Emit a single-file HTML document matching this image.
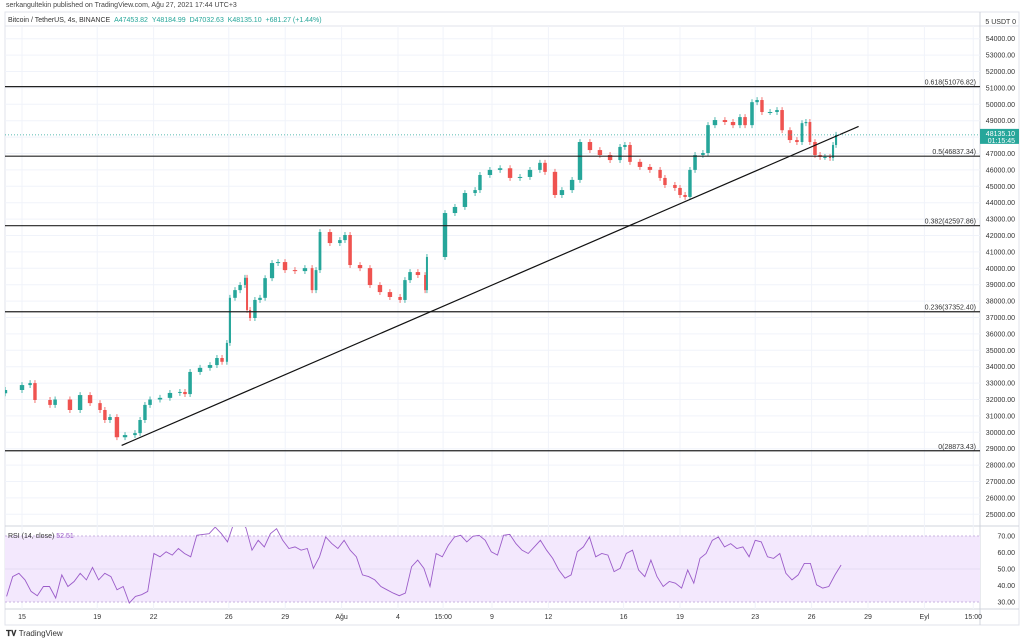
<!DOCTYPE html>
<html><head><meta charset="utf-8">
<style>
body{margin:0;background:#fff;font-family:"Liberation Sans",sans-serif;}
#wrap{position:relative;width:1024px;height:643px;overflow:hidden;background:#fff}
.t{position:absolute;font-size:7px;color:#333;white-space:nowrap}
</style></head>
<body>
<div id="wrap">
<div class="t" style="left:6px;top:2px;font-size:7px;color:#444">serkangultekin published on TradingView.com, Ağu 27, 2021 17:44 UTC+3</div>
<div class="t" style="left:8px;top:17px;font-size:7px">Bitcoin / TetherUS, 4s, BINANCE &nbsp;<span style="color:#26a69a">A47453.82 &nbsp;Y48184.99 &nbsp;D47032.63 &nbsp;K48135.10 &nbsp;+681.27 (+1.44%)</span></div>
<svg id="svg" width="1024" height="643" style="position:absolute;left:0;top:0"></svg>
<div class="t" style="left:6px;top:629px;font-size:8px;color:#333;font-weight:bold">𝐓𝐕 <span style="font-weight:normal">TradingView</span></div>
</div>
<script>
const days=[-0.9,0,0.43,0.69,1.49,1.76,2.55,3.09,3.62,4.15,4.41,4.68,5.05,5.48,6.01,6.28,6.54,6.81,7.34,7.87,8.4,8.67,8.94,9.47,10,10.37,10.64,10.9,11.06,11.33,11.6,11.86,11.97,12.13,12.39,12.66,12.93,13.3,13.62,13.99,14.52,15.05,15.43,15.64,15.85,16.38,16.91,17.18,17.45,17.98,18.51,19.04,19.57,20.11,20.37,20.64,21.06,21.44,21.54,22.5,23.03,23.56,24.1,24.36,24.89,25.43,25.96,26.49,27.02,27.55,27.82,28.35,28.72,29.26,29.68,30.21,30.74,31.28,31.81,32.07,32.34,32.87,33.4,33.94,34.2,34.73,35,35.27,35.53,35.8,36.22,36.49,36.86,37.39,37.82,38.19,38.46,38.83,39.1,39.36,39.79,40.16,40.43,40.85,41.22,41.49,41.7,41.91,42.18,42.45,42.71,42.98,43.14,43.3];
const closes=[32580,32880,33000,31970,31670,32000,31360,32270,31780,31360,30750,30930,29700,29830,29950,30750,31670,32000,32100,32400,32460,32330,33680,33930,34100,34530,34300,35450,38200,38670,38980,39420,37460,36970,38070,38200,39400,40320,40380,39890,39830,40010,38670,39890,42210,41540,41720,42030,40200,40010,38980,38550,38250,38070,39280,39770,39590,38670,40690,43370,43740,44590,44770,45690,46000,46100,45510,45570,46000,46430,45880,44470,44770,45390,47700,47210,46910,46600,47400,47520,46490,46180,46000,45510,45080,44900,44470,44350,46000,46910,47030,48730,49040,48920,48730,49220,48730,50130,50260,49530,49530,49650,48420,47820,47700,48850,48920,47700,46910,46790,46790,46730,47520,48135];
const rsiVals=[33.4,45.4,47.4,43.4,36.4,33.8,39.4,39.4,32.4,46.4,39.4,42.4,47.4,43.4,51,43.4,47.4,45.4,37.4,39.4,29.4,33.4,34.4,36.4,59.4,57.4,60.4,58.4,62.4,59.4,57.4,70.4,71,71.4,75.4,71.4,66.4,77.4,80,75,61.4,67.4,63.4,71.4,74.4,67.4,62.4,63.4,61.4,62.4,50.4,57.4,69.4,65.4,62.4,67.4,61.4,57.4,46.4,45.4,43.4,39.4,37.4,35.4,33.8,35.4,51.4,55.4,50.4,39.4,59.4,57.4,64.4,69.4,70.4,66.4,69.8,70.4,67.4,60.4,58.4,70.4,71,65.4,61.4,59.4,63.4,67.4,61.4,56.4,49.4,44.4,46.4,60.4,63.4,69.4,57.4,59.4,58.4,48.4,50.4,59.4,61.4,49.4,45.4,55.4,45.4,39.4,42.4,41.4,38.4,49.4,41.4,56.4,59.4,67.4,69.4,63.4,65.4,62.4,63.4,57.4,67.4,66.4,57.4,56.4,59.4,47.4,43.4,46.4,53.4,53.4,40.4,38.4,39.4,46.4,52.4];
const priceTicks=[54000,53000,52000,51000,50000,49000,48000,47000,46000,45000,44000,43000,42000,41000,40000,39000,38000,37000,36000,35000,34000,33000,32000,31000,30000,29000,28000,27000,26000,25000];
const fibLevels=[51076.82,46837.34,42597.86,37352.40,28873.43];
const fibNames=["0.618","0.5","0.382","0.236","0"];
const timeTickDays=[0,4,7,11,14,17,20,22.4,25,28,32,35,39,42,45,48,50.6];
const timeTickLabels=["15","19","22","26","29","Ağu","4","15:00","9","12","16","19","23","26","29","Eyl","15:00"];
const rsiTicks=[70,60,50,40,30];
const trend=[[5.3,29200],[44.5,48650]];
const lastPrice=48135.10;

const NS="http://www.w3.org/2000/svg";
const svg=document.getElementById('svg');
const X0=5,X1=980,PT=12,PB=526,RT=527,RB=609;
const xOf=d=>22+d*18.8;
const yOf=p=>38.7+(54000-p)*0.0164;
const yR=v=>536+(70-v)*1.65;
function mk(tag,a,parent){const e=document.createElementNS(NS,tag);for(const k in a)e.setAttribute(k,a[k]);(parent||svg).appendChild(e);return e;}
const defs=mk('defs',{});
const c1=mk('clipPath',{id:'cp'},defs);mk('rect',{x:X0,y:PT+14,width:X1-X0,height:PB-PT-14},c1);
const c2=mk('clipPath',{id:'cr'},defs);mk('rect',{x:X0,y:RT,width:X1-X0,height:RB-RT},c2);
let e=mk('rect',{x:X0,y:PT,width:1019-X0,height:625-PT,fill:'none',stroke:'#e0e3eb','stroke-width':1});

mk('line',{x1:X0,x2:1019,y1:PT+14,y2:PT+14,stroke:'#e0e3eb'});
mk('line',{x1:X1,x2:X1,y1:PT,y2:625,stroke:'#d1d4dc'});
mk('line',{x1:X0,x2:1019,y1:PB,y2:PB,stroke:'#d1d4dc'});
mk('line',{x1:X0,x2:1019,y1:RB,y2:RB,stroke:'#d1d4dc'});
priceTicks.forEach(p=>{const y=yOf(p);
 mk('line',{x1:X0,x2:X1,y1:y,y2:y,stroke:'#f0f3fa'});
 const t=mk('text',{x:1015,y:y+2.5,'font-size':7,fill:'#333','text-anchor':'end'});t.textContent=p.toFixed(2);
 });
let tu=mk('text',{x:1016,y:24,'font-size':7,fill:'#333','text-anchor':'end'});tu.textContent='5  USDT 0';

timeTickDays.forEach((d,i)=>{const x=xOf(d);
 mk('line',{x1:x,x2:x,y1:PT+14,y2:RB,stroke:'#f0f3fa'});
 const t=mk('text',{x:x,y:619,'font-size':7,fill:'#333','text-anchor':'middle'});t.textContent=timeTickLabels[i];
 });
const band=mk('rect',{x:X0,y:yR(70),width:X1-X0,height:yR(30)-yR(70),fill:'#f3e8fd'});

[70,30].forEach(v=>mk('line',{x1:X0,x2:X1,y1:yR(v),y2:yR(v),stroke:'#c9b3e0','stroke-dasharray':'2,2'}));
mk('line',{x1:X0,x2:X1,y1:yR(50),y2:yR(50),stroke:'#e6dcf2'});
rsiTicks.forEach(v=>{const t=mk('text',{x:1015,y:yR(v)+2.5,'font-size':7,fill:'#333','text-anchor':'end'});t.textContent=v.toFixed(2);
 });
const rs=-0.82,re=43.57;
let pts=rsiVals.map((v,i)=>xOf(rs+(re-rs)*i/(rsiVals.length-1)).toFixed(1)+','+yR(v).toFixed(1)).join(' ');
const rl=mk('polyline',{points:pts,fill:'none',stroke:'#9b5cc9','stroke-width':0.9,'clip-path':'url(#cr)'});

const rt=mk('text',{x:8,y:538,'font-size':7,fill:'#333'});rt.innerHTML='RSI (14, close) <tspan fill="#9b5cc9">52.51</tspan>';

const g=mk('g',{'clip-path':'url(#cp)'});

days.forEach((d,i)=>{
 const c=closes[i],o=i?closes[i-1]:c-200;
 const up=c>=o,col=up?'#26a69a':'#ef5350';
 const hi=Math.max(o,c)+180,lo=Math.min(o,c)-180;
 const x=xOf(d);
 const gp=i<days.length-1?xOf(days[i+1])-x:6;const gm=i?x-xOf(days[i-1]):6;
 const hw=Math.max(1,Math.min(2.2,Math.min(gp,gm)*0.35));
 mk('line',{x1:x,x2:x,y1:yOf(hi),y2:yOf(lo),stroke:col,'stroke-width':0.8},g);
 const r=mk('rect',{x:x-hw,y:yOf(Math.max(o,c)),width:hw*2,height:Math.max(1,Math.abs(yOf(o)-yOf(c))),fill:col},g);
 
});
fibLevels.forEach((p,i)=>{const y=yOf(p);
 const l=mk('line',{x1:X0,x2:X1,y1:y,y2:y,stroke:'#222','stroke-width':1.2});
 
 const t=mk('text',{x:976,y:y-2,'font-size':7,fill:'#333','text-anchor':'end'});t.textContent=fibNames[i]+'('+p.toFixed(2)+')';
 });
const tl=mk('line',{x1:xOf(trend[0][0]),y1:yOf(trend[0][1]),x2:xOf(trend[1][0]),y2:yOf(trend[1][1]),stroke:'#111','stroke-width':1.2});

const ly=yOf(lastPrice);
mk('line',{x1:X0,x2:X1,y1:ly,y2:ly,stroke:'#26a69a','stroke-dasharray':'1,2','stroke-width':0.8});
const lb=mk('rect',{x:X1,y:ly-6,width:39,height:15,fill:'#26a69a'});

const lt=mk('text',{x:1015,y:ly+1,'font-size':7,fill:'#fff','text-anchor':'end'});lt.textContent=lastPrice.toFixed(2);
const lt2=mk('text',{x:1015,y:ly+8,'font-size':7,fill:'#fff','text-anchor':'end'});lt2.textContent='01:15:45';
</script>
</body></html>
